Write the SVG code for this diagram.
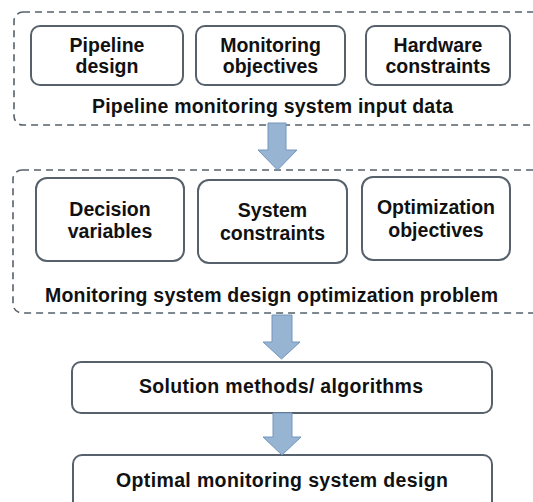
<svg xmlns="http://www.w3.org/2000/svg" width="533" height="502" viewBox="0 0 533 502">
  <style>
    .group { fill: none; stroke: #56616b; stroke-width: 1.6; stroke-dasharray: 7 5; }
    .box { fill: #ffffff; stroke: #56616b; stroke-width: 2; }
    .arrow { fill: #97b5d3; stroke: #7396bb; stroke-width: 1; }
    text { font-family: "Liberation Sans", Arial, sans-serif; font-weight: bold; font-size: 19.5px; fill: #111111; text-anchor: middle; }
  </style>
  <rect width="533" height="502" fill="#ffffff"/>

  <!-- dashed grouping frames -->
  <g id="input-data">
    <rect class="group" x="14" y="12" width="540" height="113" rx="9"/>
    <text x="272.5" y="113" textLength="361" lengthAdjust="spacing">Pipeline monitoring system input data</text>
  </g>
  <g id="optimization-problem">
    <rect class="group" x="13" y="170" width="540" height="143" rx="9"/>
    <text x="271.5" y="302" textLength="453" lengthAdjust="spacing">Monitoring system design optimization problem</text>
  </g>

  <!-- input nodes -->
  <g id="pipeline-design">
    <rect class="box" x="31" y="26" width="152" height="59" rx="9"/>
    <text x="107" y="52">Pipeline</text>
    <text x="107" y="73">design</text>
  </g>
  <g id="monitoring-objectives">
    <rect class="box" x="196" y="26" width="149" height="59" rx="9"/>
    <text x="270.5" y="52">Monitoring</text>
    <text x="270.5" y="73">objectives</text>
  </g>
  <g id="hardware-constraints">
    <rect class="box" x="366" y="26" width="144" height="59" rx="9"/>
    <text x="438" y="52">Hardware</text>
    <text x="438" y="73">constraints</text>
  </g>

  <!-- problem nodes -->
  <g id="decision-variables">
    <rect class="box" x="36" y="178" width="148" height="83" rx="11"/>
    <text x="110" y="216">Decision</text>
    <text x="110" y="238">variables</text>
  </g>
  <g id="system-constraints">
    <rect class="box" x="198" y="180" width="149" height="83" rx="11"/>
    <text x="272.5" y="217">System</text>
    <text x="272.5" y="240">constraints</text>
  </g>
  <g id="optimization-objectives">
    <rect class="box" x="362" y="177" width="148" height="83" rx="11"/>
    <text x="436" y="214">Optimization</text>
    <text x="436" y="237">objectives</text>
  </g>

  <!-- solution and result nodes -->
  <g id="solution-methods">
    <rect class="box" x="72" y="362" width="420" height="51" rx="9"/>
    <text x="281" y="393" textLength="284" lengthAdjust="spacing">Solution methods/ algorithms</text>
  </g>
  <g id="optimal-design">
    <rect class="box" x="73" y="455" width="419" height="60" rx="9"/>
    <text x="282" y="487" textLength="332" lengthAdjust="spacing">Optimal monitoring system design</text>
  </g>

  <!-- block arrows -->
  <g id="connectors">
    <path class="arrow" d="M268,123 H286 V150 H297 L277.5,170 L258,150 H268 Z"/>
    <path class="arrow" d="M272,315 H292 V342 H300 L281.5,359 L263,342 H272 Z"/>
    <path class="arrow" d="M273,413 H292 V437 H301 L282,455 L263,437 H273 Z"/>
  </g>
</svg>
